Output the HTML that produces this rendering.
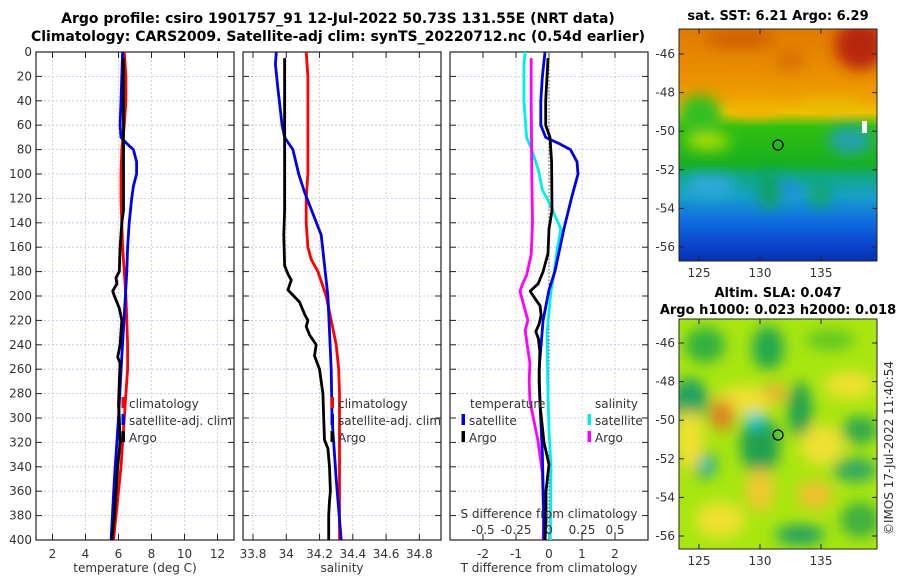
<!DOCTYPE html>
<html><head><meta charset="utf-8"><style>
html,body{margin:0;padding:0;background:#fff;}
svg{display:block;font-family:"DejaVu Sans","Liberation Sans",sans-serif;}
.t{font-size:12px;fill:#333;}
.b{font-weight:bold;font-size:14px;fill:#000;}
.bm{font-weight:bold;font-size:13px;fill:#000;}
</style></head><body>
<svg id="fig" width="900" height="580" viewBox="0 0 900 580">
<defs>
<filter id="bl" x="-50%" y="-50%" width="200%" height="200%"><feGaussianBlur stdDeviation="7"/></filter>
<clipPath id="c1"><rect x="679" y="29" width="198" height="232"/></clipPath>
<clipPath id="c2"><rect x="679" y="319" width="198" height="230"/></clipPath>
<linearGradient id="sst" x1="0" y1="0" x2="0" y2="1">
<stop offset="0" stop-color="#e07a00"/><stop offset="0.2" stop-color="#ea9000"/><stop offset="0.3" stop-color="#eea000"/>
<stop offset="0.36" stop-color="#f0c000"/><stop offset="0.42" stop-color="#30c010"/><stop offset="0.58" stop-color="#18b020"/>
<stop offset="0.64" stop-color="#10a888"/><stop offset="0.72" stop-color="#18a0c8"/><stop offset="0.82" stop-color="#1070e0"/>
<stop offset="0.92" stop-color="#0a48d0"/><stop offset="1" stop-color="#0830b0"/></linearGradient>
</defs>
<text class="b" x="338" y="23" text-anchor="middle">Argo profile: csiro 1901757_91 12-Jul-2022 50.73S 131.55E (NRT data)</text>
<text class="b" x="338" y="41" text-anchor="middle">Climatology: CARS2009. Satellite-adj clim: synTS_20220712.nc (0.54d earlier)</text>
<g id="plots"></g>

<!-- SST map -->
<g>
<text class="bm" x="778" y="20" text-anchor="middle">sat. SST: 6.21 Argo: 6.29</text>
<g clip-path="url(#c1)">
<rect x="679" y="29" width="198" height="232" fill="url(#sst)"/>
<g filter="url(#bl)">
<ellipse cx="860" cy="45" rx="25" ry="25" fill="#b82808"/>
<ellipse cx="740" cy="38" rx="35" ry="10" fill="#d06000"/>
<ellipse cx="790" cy="60" rx="15" ry="10" fill="#d87000"/>
<ellipse cx="700" cy="115" rx="22" ry="20" fill="#30c020"/>
<ellipse cx="708" cy="142" rx="22" ry="8" fill="#b0e000"/>
<ellipse cx="755" cy="108" rx="25" ry="8" fill="#f0b000"/>
<ellipse cx="830" cy="105" rx="35" ry="6" fill="#e8c000"/>
<ellipse cx="850" cy="140" rx="22" ry="14" fill="#20a0b0"/>
<ellipse cx="770" cy="190" rx="12" ry="20" fill="#10a060"/>
<ellipse cx="820" cy="195" rx="10" ry="12" fill="#10a860"/>
<ellipse cx="710" cy="185" rx="25" ry="10" fill="#30a8e0"/>
<ellipse cx="790" cy="190" rx="10" ry="10" fill="#2090e0"/>
</g>
<rect x="862" y="121" width="5" height="12" fill="#fff"/>
</g>
<rect x="679" y="29" width="198" height="232" fill="none" stroke="#222"/>
<circle cx="778" cy="145" r="5" fill="none" stroke="#000" stroke-width="1.2"/>
</g>

<!-- SLA map -->
<g>
<text class="bm" x="778" y="297" text-anchor="middle">Altim. SLA: 0.047</text>
<text class="bm" x="778" y="314" text-anchor="middle">Argo h1000: 0.023 h2000: 0.018</text>
<g clip-path="url(#c2)">
<rect x="679" y="319" width="198" height="230" fill="#a8e610"/>
<g filter="url(#bl)">
<ellipse cx="705" cy="345" rx="20" ry="18" fill="#30b040"/>
<ellipse cx="768" cy="348" rx="16" ry="22" fill="#20a850"/>
<ellipse cx="830" cy="340" rx="25" ry="10" fill="#60c820"/>
<ellipse cx="690" cy="400" rx="18" ry="22" fill="#20a060"/>
<ellipse cx="745" cy="400" rx="30" ry="14" fill="#f0e030"/>
<ellipse cx="722" cy="415" rx="12" ry="16" fill="#e08020"/>
<ellipse cx="775" cy="392" rx="12" ry="9" fill="#e8b030"/>
<ellipse cx="760" cy="445" rx="20" ry="30" fill="#20a050"/>
<ellipse cx="755" cy="420" rx="10" ry="8" fill="#20d0e0"/>
<ellipse cx="800" cy="410" rx="12" ry="28" fill="#20a050"/>
<ellipse cx="850" cy="385" rx="25" ry="14" fill="#f0e030"/>
<ellipse cx="860" cy="430" rx="18" ry="14" fill="#30a850"/>
<ellipse cx="822" cy="445" rx="22" ry="20" fill="#f0e030"/>
<ellipse cx="705" cy="465" rx="12" ry="14" fill="#30a860"/>
<ellipse cx="706" cy="465" rx="5" ry="6" fill="#30d0e0"/>
<ellipse cx="690" cy="440" rx="14" ry="30" fill="#f0e030"/>
<ellipse cx="760" cy="490" rx="14" ry="22" fill="#f0c830"/>
<ellipse cx="855" cy="470" rx="22" ry="12" fill="#30a860"/>
<ellipse cx="815" cy="495" rx="18" ry="14" fill="#f0c030"/>
<ellipse cx="720" cy="520" rx="25" ry="18" fill="#f0e030"/>
<ellipse cx="800" cy="535" rx="25" ry="10" fill="#20a060"/>
<ellipse cx="860" cy="520" rx="20" ry="18" fill="#40b040"/>
</g>
</g>
<rect x="679" y="319" width="198" height="230" fill="none" stroke="#222"/>
<circle cx="778" cy="435" r="5" fill="none" stroke="#000" stroke-width="1.2"/>
<text class="t" transform="translate(893,448) rotate(-90)" text-anchor="middle" font-size="13">©IMOS 17-Jul-2022 11:40:54</text>
</g>
<g id="mapaxes"></g>
</svg>
<script>
// ---------- data ----------
var tickDepths = [0,20,40,60,80,100,120,140,160,180,200,220,240,260,280,300,320,340,360,380,400];
var tempTicks = [2,4,6,8,10,12];
var salTicks = [33.8,34,34.2,34.4,34.6,34.8];
var salTickLabels = ["33.8","34","34.2","34.4","34.6","34.8"];
var tdiffTicks = [-2,-1,0,1,2];
var tdiffTickLabels = ["-2","-1","0","1","2"];
var sdiffTickLabels = ["-0.5","-0.25","0","0.25","0.5"];
var sdiffTicks = [-0.5,-0.25,0,0.25,0.5];

var climTDepth = [0,20,40,60,80,100,120,140,160,180,200,220,240,260,280,300,320,340,360,380,400];
var climT = [6.35,6.45,6.45,6.35,6.2,6.15,6.15,6.2,6.25,6.35,6.45,6.5,6.55,6.55,6.45,6.35,6.25,6.15,6.0,5.85,5.7];
var satTDepth = [0,20,40,60,70,75,80,90,100,110,120,140,160,180,200,250,300,350,400];
var satT = [6.25,6.2,6.15,6.1,6.15,6.5,6.9,7.1,7.1,6.9,6.8,6.65,6.55,6.5,6.42,6.2,6.0,5.75,5.55];
var argoTDepth = [5,40,80,130,140,160,180,185,190,196,200,210,220,240,250,255,270,290,300,320,340,360,380,400];
var argoT = [6.3,6.3,6.3,6.3,6.2,6.1,6.05,5.85,5.9,5.65,5.75,6.05,6.2,6.1,5.95,6.1,6.05,6.0,6.05,6.1,5.95,5.85,5.75,5.6];

var climSDepth = [0,20,40,60,80,100,120,140,160,170,180,200,220,240,260,280,300,340,400];
var climS = [34.12,34.13,34.13,34.13,34.13,34.13,34.12,34.12,34.13,34.15,34.19,34.24,34.27,34.3,34.315,34.32,34.32,34.32,34.32];
var satSDepth = [0,10,30,60,70,80,100,115,150,200,260,300,350,400];
var satS = [33.94,33.935,33.95,33.975,33.99,34.04,34.075,34.11,34.21,34.25,34.27,34.275,34.3,34.33];
var argoSDepth = [5,130,150,175,182,187,195,205,215,220,225,232,240,249,260,280,300,318,325,340,360,368,380,400];
var argoS = [33.99,33.99,33.985,33.99,34.01,34.03,34.01,34.08,34.11,34.13,34.12,34.14,34.18,34.17,34.2,34.22,34.225,34.23,34.25,34.26,34.265,34.26,34.255,34.255];

var dTsatDepth = [0,20,40,60,70,75,80,90,100,120,145,180,195,220,260,290,330,370,400];
var dTsat = [-0.12,-0.2,-0.25,-0.25,-0.1,0.3,0.65,0.85,0.88,0.68,0.45,0.18,0,-0.18,-0.3,-0.27,-0.2,-0.17,-0.15];
var dTargoDepth = [5,40,60,70,90,130,145,165,180,190,196,201,208,216,223,229,235,245,270,290,320,338,360,385,400];
var dTargo = [-0.03,-0.1,-0.1,0.03,0.08,0.09,0,-0.03,-0.18,-0.33,-0.57,-0.45,-0.27,-0.24,-0.3,-0.4,-0.32,-0.28,-0.3,-0.27,-0.15,0,-0.09,-0.09,-0.12];
var dSsatDepth = [0,10,40,70,80,97,113,121,145,163,180,196,230,270,310,340,400];
var dSsat = [-0.18,-0.19,-0.19,-0.17,-0.13,-0.08,-0.05,-0.01,0.09,0.06,0.04,0.015,-0.015,-0.01,0,0.015,0.01];
var dSargoDepth = [5,40,100,140,166,183,190,196,204,220,228,240,255,270,286,318,345,384,400];
var dSargo = [-0.135,-0.135,-0.13,-0.125,-0.135,-0.17,-0.2,-0.22,-0.2,-0.16,-0.18,-0.165,-0.145,-0.15,-0.145,-0.085,-0.05,-0.04,-0.045];

var latTicks = [-46,-48,-50,-52,-54,-56];
var lonTicks = [125,130,135];

// ---------- helpers ----------
var NS = "http://www.w3.org/2000/svg";
var root = document.getElementById('plots');
function mk(tag, attrs, parent){ var e=document.createElementNS(NS,tag); for(var k in attrs) e.setAttribute(k,attrs[k]); (parent||root).appendChild(e); return e; }
var Y0=52, Y1=540;
function yD(d){ return Y0 + d/400*(Y1-Y0); }
function lin(d0,d1,r0,r1){ return function(v){ return r0+(v-d0)/(d1-d0)*(r1-r0); }; }

var panels = [
 {x0:36,x1:234,sx:lin(1,13,36,234),ticks:tempTicks,labels:tempTicks.map(String),xlabel:"temperature (deg C)",name:"temperature"},
 {x0:243,x1:441,sx:lin(33.74,34.93,243,441),ticks:salTicks,labels:salTickLabels,xlabel:"salinity",name:"salinity"},
 {x0:450,x1:648,sx:lin(-3,3,450,648),ticks:tdiffTicks,labels:tdiffTickLabels,xlabel:"T difference from climatology",name:"difference"}
];

panels.forEach(function(p,pi){
  var g = mk('g',{});
  
  
  tickDepths.forEach(function(d){
    var y=yD(d);
    var gl=mk('line',{x1:p.x0,x2:p.x1,y1:y,y2:y,stroke:'#b8c4e8','stroke-width':0.8,'stroke-dasharray':'2,2'},g);
    
    
    mk('line',{x1:p.x0,x2:p.x0+6,y1:y,y2:y,stroke:'#222'},g);
    mk('line',{x1:p.x1-6,x2:p.x1,y1:y,y2:y,stroke:'#222'},g);
    if(pi===0){
      var tl=mk('text',{x:p.x0-4,y:y+4,'text-anchor':'end','class':'t'},g);
      tl.textContent=d;
      
      
    }
  });
  p.ticks.forEach(function(v,i){
    var x=p.sx(v);
    var vg=mk('line',{x1:x,x2:x,y1:Y0,y2:Y1,stroke:'#e0c0c0','stroke-width':0.8,'stroke-dasharray':'2,2'},g);
    
    
    mk('line',{x1:x,x2:x,y1:Y1,y2:Y1-6,stroke:'#222'},g);
    mk('line',{x1:x,x2:x,y1:Y0,y2:Y0+6,stroke:'#222'},g);
    var t=mk('text',{x:x,y:Y1+18,'text-anchor':'middle','class':'t'},g);
    t.textContent=p.labels[i];
    
    
  });
  mk('rect',{x:p.x0,y:Y0,width:p.x1-p.x0,height:Y1-Y0,fill:'none',stroke:'#222','stroke-width':1.2},g);
  var xl=mk('text',{x:(p.x0+p.x1)/2,y:572,'text-anchor':'middle','class':'t','font-size':'13'},g);
  xl.textContent=p.xlabel;
  
  
});

function series(px, depths, vals, color, name){
  var pts = depths.map(function(d,i){ return px(vals[i]).toFixed(1)+','+yD(d).toFixed(1); }).join(' ');
  var l = mk('polyline',{points:pts,fill:'none',stroke:color,'stroke-width':2.8,'stroke-linejoin':'round'});
  
  
}
var sT=panels[0].sx, sS=panels[1].sx, sD=panels[2].sx;
var sDS=lin(-0.75,0.75,450,648);

var z=mk('line',{x1:sD(0),x2:sD(0),y1:Y0,y2:Y1,stroke:'#554',"stroke-width":1,'stroke-dasharray':'1.5,2'});



series(sT, climTDepth, climT, '#ff0000', 'temp-climatology-line');
series(sT, satTDepth, satT, '#0000ee', 'temp-satellite-line');
series(sT, argoTDepth, argoT, '#000000', 'temp-argo-line');
series(sS, climSDepth, climS, '#ff0000', 'sal-climatology-line');
series(sS, satSDepth, satS, '#0000ee', 'sal-satellite-line');
series(sS, argoSDepth, argoS, '#000000', 'sal-argo-line');
series(sDS, dSsatDepth, dSsat, '#00eeee', 'sdiff-satellite-line');
series(sDS, dSargoDepth, dSargo, '#ff00ff', 'sdiff-argo-line');
series(sD, dTsatDepth, dTsat, '#0000ee', 'tdiff-satellite-line');
series(sD, dTargoDepth, dTargo, '#000000', 'tdiff-argo-line');

var st=mk('text',{x:549,y:518,'text-anchor':'middle','class':'t','font-size':'13'});
st.textContent='S difference from climatology';


sdiffTicks.forEach(function(v,i){
  var t=mk('text',{x:sDS(v),y:534,'text-anchor':'middle','class':'t'});
  t.textContent=sdiffTickLabels[i];
  
  
});

function legend(x,y,color,label,name){
  var m=mk('rect',{x:x-1.5,y:y-11,width:3.5,height:11,fill:color});
  
  
  var t=mk('text',{x:x+6,y:y,'class':'t','font-size':'13',fill:'#111'});
  t.textContent=label;
  
  
}
[[123,'temp'],[332,'sal']].forEach(function(a){
  legend(a[0],408,'#ff0000','climatology',a[1]+'-legend-climatology');
  legend(a[0],425,'#0000ee','satellite-adj. clim',a[1]+'-legend-satellite');
  legend(a[0],442,'#000000','Argo',a[1]+'-legend-argo');
});
var lt=mk('text',{x:470,y:408,'class':'t','font-size':'13',fill:'#111'});
lt.textContent='temperature';


var ls=mk('text',{x:595,y:408,'class':'t','font-size':'13',fill:'#111'});
ls.textContent='salinity';


legend(463,425,'#0000ee','satellite','tdiff-legend-satellite');
legend(463,442,'#000000','Argo','tdiff-legend-argo');
legend(589,425,'#00eeee','satellite','sdiff-legend-satellite');
legend(589,442,'#ff00ff','Argo','sdiff-legend-argo');

var ma=document.getElementById('mapaxes');
var lonX=lin(125,135,699,821);
[[29,261,lin(-46,-56,54,247)],[319,549,lin(-46,-56,343,536)]].forEach(function(m,mi){
  latTicks.forEach(function(v){
    var y=m[2](v);
    mk('line',{x1:679,x2:684,y1:y,y2:y,stroke:'#222'},ma);
    mk('line',{x1:872,x2:877,y1:y,y2:y,stroke:'#222'},ma);
    var t=mk('text',{x:675,y:y+4,'text-anchor':'end','class':'t'},ma);
    t.textContent=v;
    
    
  });
  lonTicks.forEach(function(v){
    var x=lonX(v);
    mk('line',{x1:x,x2:x,y1:m[1],y2:m[1]-5,stroke:'#222'},ma);
    mk('line',{x1:x,x2:x,y1:m[0],y2:m[0]+5,stroke:'#222'},ma);
    var t=mk('text',{x:x,y:m[1]+16,'text-anchor':'middle','class':'t'},ma);
    t.textContent=v;
    
    
  });
});
</script>
</body></html>
